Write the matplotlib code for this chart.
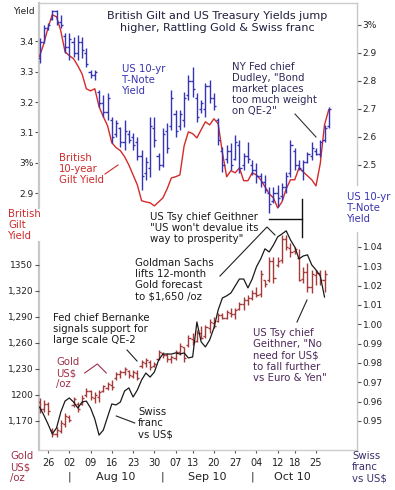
import numpy as np
import pandas as pd
import matplotlib
matplotlib.use("Agg")
import matplotlib.pyplot as plt
from matplotlib.lines import Line2D
from matplotlib import transforms

plt.rcParams["font.family"] = "DejaVu Sans"

# trading days (US bond market holidays excluded)
dates = pd.bdate_range("2010-07-22", "2010-10-28", freq="C",
                       holidays=["2010-09-06", "2010-10-11"])

# US 10-yr T-Note yield, daily bars (%)
us_open = [2.88, 2.94, 2.99, 3.02, 3.05, 3.01, 2.96, 2.92, 2.94, 2.90,
           2.94, 2.90, 2.83, 2.82, 2.76, 2.72, 2.69, 2.66, 2.61, 2.63,
           2.58, 2.61, 2.60, 2.58, 2.53, 2.47, 2.49, 2.63, 2.53, 2.50,
           2.62, 2.64, 2.68, 2.64, 2.66, 2.75, 2.80, 2.74, 2.70, 2.70,
           2.78, 2.74, 2.66, 2.55, 2.52, 2.55, 2.52, 2.57, 2.50, 2.53,
           2.50, 2.48, 2.46, 2.44, 2.40, 2.37, 2.40, 2.39, 2.42, 2.47,
           2.55, 2.50, 2.48, 2.51, 2.53, 2.55, 2.54, 2.59, 2.64]
us_high = [2.954, 3.000, 3.007, 3.054, 3.054, 3.036, 2.971, 2.971, 2.957, 2.964,
           2.957, 2.918, 2.839, 2.839, 2.768, 2.750, 2.757, 2.671, 2.661, 2.636,
           2.661, 2.625, 2.614, 2.600, 2.554, 2.529, 2.671, 2.671, 2.543, 2.632,
           2.650, 2.768, 2.696, 2.696, 2.761, 2.821, 2.850, 2.757, 2.732, 2.793,
           2.804, 2.757, 2.668, 2.564, 2.571, 2.579, 2.607, 2.589, 2.543, 2.582,
           2.518, 2.507, 2.471, 2.464, 2.421, 2.421, 2.429, 2.436, 2.475, 2.589,
           2.561, 2.518, 2.518, 2.546, 2.582, 2.561, 2.589, 2.643, 2.707]
us_low = [2.864, 2.936, 2.982, 3.018, 3.000, 2.989, 2.900, 2.875, 2.886, 2.875,
          2.882, 2.850, 2.811, 2.804, 2.707, 2.671, 2.661, 2.579, 2.600, 2.564,
          2.554, 2.579, 2.554, 2.518, 2.411, 2.446, 2.457, 2.564, 2.482, 2.493,
          2.543, 2.625, 2.600, 2.625, 2.636, 2.732, 2.743, 2.654, 2.686, 2.671,
          2.721, 2.696, 2.571, 2.475, 2.507, 2.482, 2.518, 2.471, 2.482, 2.507,
          2.464, 2.436, 2.421, 2.400, 2.329, 2.364, 2.350, 2.375, 2.400, 2.457,
          2.482, 2.482, 2.446, 2.507, 2.518, 2.536, 2.529, 2.582, 2.632]
us_close = [2.94, 2.99, 3.00, 3.05, 3.01, 3.00, 2.92, 2.95, 2.90, 2.94,
            2.91, 2.86, 2.82, 2.83, 2.72, 2.69, 2.74, 2.60, 2.65, 2.58,
            2.62, 2.59, 2.57, 2.53, 2.46, 2.51, 2.64, 2.59, 2.50, 2.61,
            2.56, 2.74, 2.62, 2.68, 2.74, 2.80, 2.77, 2.67, 2.72, 2.78,
            2.74, 2.71, 2.59, 2.50, 2.55, 2.50, 2.58, 2.49, 2.53, 2.52,
            2.48, 2.46, 2.44, 2.41, 2.36, 2.40, 2.38, 2.42, 2.46, 2.57,
            2.50, 2.49, 2.51, 2.54, 2.56, 2.54, 2.58, 2.63, 2.70]

# British 10-year gilt yield (%)
gilt = [3.350, 3.392, 3.445, 3.488, 3.481, 3.435, 3.366, 3.353, 3.343, 3.320,
        3.293, 3.244, 3.237, 3.244, 3.185, 3.152, 3.122, 3.066, 3.050, 3.040,
        3.020, 2.993, 2.960, 2.927, 2.875, 2.871, 2.868, 2.858, 2.871, 2.884,
        2.914, 2.950, 2.954, 2.960, 3.056, 3.102, 3.096, 3.082, 3.109, 3.135,
        3.125, 3.145, 3.129, 3.033, 2.954, 2.974, 2.967, 2.983, 2.941, 2.941,
        2.967, 2.960, 2.944, 2.921, 2.898, 2.884, 2.851, 2.871, 2.914, 2.944,
        2.944, 2.983, 2.970, 2.957, 2.944, 2.924, 2.997, 3.125, 3.175]

# Gold, US$ per oz
gold_open = [1192, 1184, 1189, 1160, 1155, 1158, 1167, 1175, 1188, 1190,
             1190, 1200, 1204, 1197, 1198, 1205, 1208, 1212, 1219, 1224,
             1226, 1228, 1222, 1225, 1233, 1237, 1238, 1233, 1242, 1248,
             1246, 1241, 1243, 1250, 1255, 1258, 1265, 1262, 1271, 1268,
             1277, 1283, 1285, 1292, 1289, 1295, 1293, 1299, 1305, 1309,
             1312, 1317, 1316, 1332, 1332, 1354, 1350, 1356, 1380, 1370,
             1366, 1358, 1334, 1342, 1325, 1338, 1341, 1333]
gold_high = [1196, 1194, 1192, 1162, 1163, 1171, 1179, 1177, 1198, 1192,
             1200, 1208, 1206, 1203, 1206, 1212, 1215, 1217, 1226, 1229,
             1232, 1229, 1229, 1229, 1240, 1243, 1240, 1238, 1252, 1250,
             1248, 1246, 1252, 1260, 1255, 1269, 1272, 1275, 1279, 1281,
             1287, 1290, 1295, 1295, 1298, 1300, 1300, 1307, 1313, 1315,
             1321, 1324, 1344, 1333, 1359, 1359, 1359, 1385, 1385, 1375,
             1371, 1368, 1348, 1352, 1344, 1344, 1344, 1344]
gold_low = [1179, 1180, 1177, 1151, 1151, 1156, 1163, 1169, 1186, 1180,
            1188, 1198, 1194, 1191, 1192, 1203, 1206, 1206, 1217, 1220,
            1223, 1220, 1220, 1217, 1231, 1232, 1229, 1232, 1240, 1243,
            1238, 1237, 1240, 1246, 1238, 1255, 1258, 1261, 1264, 1266,
            1272, 1277, 1284, 1287, 1287, 1290, 1287, 1298, 1298, 1304,
            1310, 1313, 1313, 1325, 1330, 1329, 1348, 1352, 1367, 1359,
            1362, 1331, 1329, 1319, 1318, 1327, 1327, 1319]
gold_close = [1184, 1190, 1182, 1155, 1160, 1168, 1176, 1171, 1195, 1184,
              1197, 1205, 1198, 1200, 1203, 1210, 1213, 1209, 1224, 1226,
              1230, 1223, 1226, 1220, 1238, 1240, 1232, 1236, 1249, 1246,
              1242, 1244, 1250, 1257, 1243, 1266, 1261, 1272, 1266, 1278,
              1284, 1280, 1292, 1289, 1296, 1293, 1298, 1305, 1310, 1312,
              1318, 1315, 1340, 1328, 1355, 1335, 1355, 1380, 1371, 1365,
              1368, 1333, 1342, 1324, 1339, 1341, 1332, 1340]

# Swiss franc in US$
chf = [0.9572, 0.9531, 0.9484, 0.9433, 0.9464, 0.9546, 0.9603, 0.9619, 0.9598, 0.9567,
       0.9598, 0.9603, 0.9567, 0.9510, 0.9427, 0.9453, 0.9521, 0.9588, 0.9583, 0.9598,
       0.9655, 0.9671, 0.9624, 0.9660, 0.9712, 0.9748, 0.9727, 0.9753, 0.9815, 0.9846,
       0.9846, 0.9846, 0.9852, 0.9846, 0.9852, 0.9826, 0.9831, 1.0012, 0.9909, 0.9883,
       0.9919, 0.9981, 1.0074, 1.0136, 1.0147, 1.0162, 1.0198, 1.0234, 1.0234, 1.0188,
       1.0234, 1.0297, 1.0338, 1.0390, 1.0374, 1.0410, 1.0452, 1.0467, 1.0483, 1.0436,
       1.0400, 1.0338, 1.0353, 1.0359, 1.0307, 1.0281, 1.0250, 1.0141]

gilt_ticks = [2.9, 3.0, 3.1, 3.2, 3.3, 3.4]
gilt_labels = ["2.9", "3%", "3.1", "3.2", "3.3", "3.4"]
us_ticks = [2.5, 2.6, 2.7, 2.8, 2.9, 3.0]
us_labels = ["2.5", "2.6", "2.7", "2.8", "2.9", "3%"]
gold_ticks = [1170, 1200, 1230, 1260, 1290, 1320, 1350]
gold_labels = ["1,170", "1200", "1,230", "1,260", "1,290", "1,320", "1350"]
chf_ticks = [0.95, 0.96, 0.97, 0.98, 0.99, 1.00, 1.01, 1.02, 1.03, 1.04]
chf_labels = ["0.95", "0.96", "0.97", "0.98", "0.99", "1.00", "1.01", "1.02", "1.03", "1.04"]

W, H = 395, 490
fig = plt.figure(figsize=(W / 100, H / 100), dpi=100)


def P(x, y):
    # pixel position -> figure fraction
    return x / W, 1 - y / H


L, R, T, B = 39, 357, 3, 450
rect = [L / W, 1 - B / H, (R - L) / W, (B - T) / H]

ax_g = fig.add_axes(rect)
ax_u = ax_g.twinx()
ax_au = fig.add_axes(rect, sharex=ax_g)
ax_chf = ax_au.twinx()
ax_au.patch.set_visible(False)

x = np.arange(len(dates))
ng = len(gold_close)


def ohlc(ax, xs, o, h, l, c, color, w=0.5, lw=1.0):
    ax.vlines(xs, l, h, color=color, lw=lw)
    ax.hlines(o, xs - w, xs, color=color, lw=lw)
    ax.hlines(c, xs, xs + w, color=color, lw=lw)


ax_g.plot(x, gilt, color="#d42a2a", lw=1.0, zorder=3)
ohlc(ax_u, x, us_open, us_high, us_low, us_close, "#3434b4")
ohlc(ax_au, x[:ng], gold_open, gold_high, gold_low, gold_close, "#a43a3a")
ax_chf.plot(x[:ng], chf, color="#1a1a1a", lw=0.9)

ax_g.set_xlim(-0.12, 74.64)
ax_g.set_ylim(2.0534, 3.5266)
ax_u.set_ylim(1.4821, 3.0775)
ax_au.set_ylim(1136.5, 1652.0)
ax_chf.set_ylim(0.935, 1.1661)

# spines
for ax in (ax_u, ax_au, ax_chf):
    for s in ax.spines.values():
        s.set_visible(False)
ax_g.spines["right"].set_visible(False)
ax_g.spines["left"].set_color("#c8c8c8")
ax_g.spines["left"].set_linewidth(1.6)
for side in ("top", "bottom"):
    ax_g.spines[side].set_color("#cccccc")
    ax_g.spines[side].set_linewidth(1.0)
ax_u.spines["right"].set_visible(True)
ax_u.spines["right"].set_bounds(2.429, 3.0775)
ax_chf.spines["right"].set_visible(True)
ax_chf.spines["right"].set_bounds(0.935, 1.0478)
for ax in (ax_u, ax_chf):
    ax.spines["right"].set_color("#c8c8c8")
    ax.spines["right"].set_linewidth(1.0)

TFS = 6.5
tick_kw = dict(length=3, width=0.8, pad=1, labelsize=TFS, color="#555555", labelcolor="#222222")
ax_g.set_yticks(gilt_ticks, gilt_labels)
ax_u.set_yticks(us_ticks, us_labels)
ax_au.set_yticks(gold_ticks, gold_labels)
ax_chf.set_yticks(chf_ticks, chf_labels)
for ax in (ax_g, ax_u, ax_au, ax_chf):
    ax.tick_params(axis="y", **tick_kw)

# x axis: first trading day of each week
week = dates.isocalendar().week.values
week_idx = [i for i in range(1, len(dates)) if week[i] != week[i - 1]]
ax_g.set_xticks(week_idx, [dates[i].strftime("%d") for i in week_idx])
ax_g.tick_params(axis="x", length=2, width=0.8, pad=4, labelsize=TFS + 0.5,
                 color="#555555", labelcolor="#222222")
ax_au.xaxis.set_visible(False)

blend = transforms.blended_transform_factory(ax_g.transData, ax_g.transAxes)
month_idx = [i for i in range(1, len(dates)) if dates[i].month != dates[i - 1].month]
month_names = [dates[i].strftime("%b %y") for i in month_idx]
bounds = month_idx + [len(dates)]
for k, i in enumerate(month_idx):
    ax_g.text(i, -0.0604, "|", transform=blend, ha="center", va="center",
              fontsize=8, color="#222222")
    ax_g.text((bounds[k] + bounds[k + 1]) / 2, -0.0604, month_names[k],
              transform=blend, ha="center", va="center", fontsize=8, color="#222222")

FS = 7.3


def label(xp, yc, s, color, fs=FS, ha="left", ls=1.15, **kw):
    fig.text(*P(xp, yc), s, color=color, fontsize=fs, ha=ha, va="center",
             linespacing=ls, **kw)


def line(pts, color="#222222", lw=0.8):
    xs = [p[0] / W for p in pts]
    ys = [1 - p[1] / H for p in pts]
    fig.add_artist(Line2D(xs, ys, color=color, lw=lw, transform=fig.transFigure))


label(217, 22, "British Gilt and US Treasury Yields jump\nhigher, Rattling Gold & Swiss franc",
      "#1e1e3c", fs=8, ha="center", ls=1.25, multialignment="center")
label(13, 11, "Yield", "#222222", fs=TFS)
label(122, 80, "US 10-yr\nT-Note\nYield", "#3a34b0")
label(59, 169, "British\n10-year\nGilt Yield", "#cc2a2a")
label(232, 89, "NY Fed chief\nDudley, \"Bond\nmarket places\ntoo much weight\non QE-2\"", "#2e2a5a")
label(347, 208, "US 10-yr\nT-Note\nYield", "#3a34b0")
label(8, 225, "British\nGilt\nYield", "#cc2a2a",
      bbox=dict(facecolor="white", edgecolor="none", pad=0))
label(150, 228, "US Tsy chief Geithner\n\"US won't devalue its\nway to prosperity\"", "#1a1a1a")
label(135, 279.5, "Goldman Sachs\nlifts 12-month\nGold forecast\nto $1,650 /oz", "#1a1a1a")
label(53, 329, "Fed chief Bernanke\nsignals support for\nlarge scale QE-2", "#1a1a1a")
label(56, 373, "Gold\nUS$\n/oz", "#a0304a")
label(138, 423, "Swiss\nfranc\nvs US$", "#1a1a1a")
label(253, 355.5, "US Tsy chief\nGeithner, \"No\nneed for US$\nto fall further\nvs Euro & Yen\"", "#4a2858")
label(10, 467, "Gold\nUS$\n/oz", "#a0304a")
label(352, 467, "Swiss\nfranc\nvs US$", "#3b2d6b")

line([(105, 174), (118, 165)], color="#cc2a2a")
line([(295, 114), (316, 137)], color="#333333")
line([(269, 219), (302, 219)], color="#111111", lw=1.0)
line([(302, 199), (302, 237)], color="#111111", lw=1.0)
line([(220, 276), (267, 227), (275, 235)])
line([(127, 350), (137, 361)])
line([(84.7, 373), (97.3, 364), (106.3, 373)], color="#a0304a")
line([(116.3, 416), (134.7, 423)])
line([(307, 300), (297, 322)])

fig.savefig("out.png", dpi=100)
